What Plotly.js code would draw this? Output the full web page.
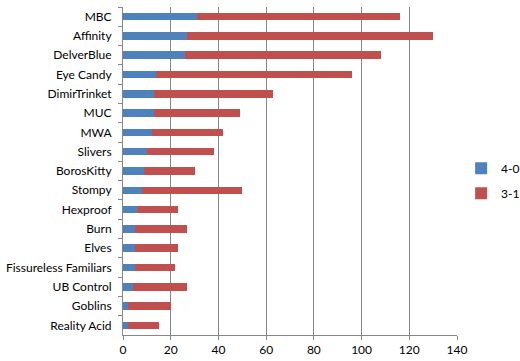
<!DOCTYPE html>
<html><head><meta charset="utf-8">
<script src="https://cdn.plot.ly/plotly-3.0.1.min.js"></script>
<style>html,body{margin:0;padding:0;background:#fff}</style>
</head><body><div id="chart" style="width:520px;height:361px"></div>
<script>
var categories = ["MBC","Affinity","DelverBlue","Eye Candy","DimirTrinket","MUC","MWA","Slivers","BorosKitty","Stompy","Hexproof","Burn","Elves","Fissureless Familiars","UB Control","Goblins","Reality Acid"];
var wins40 = [31,27,26,14,13,13,12,10,9,8,6,5,5,5,4,2,2];
var wins31 = [85,103,82,82,50,36,30,28,21,42,17,22,18,17,23,18,13];
var xTicks = [0,20,40,60,80,100,120,140];

var font = {family:"Lato, 'Open Sans', sans-serif", size:12, color:"#000"};
var traces = [
  {type:"bar", orientation:"h", name:"4-0", y:categories, x:wins40, marker:{color:"#4F81BD"}, legendgroup:"a"},
  {type:"bar", orientation:"h", name:"3-1", y:categories, x:wins31, marker:{color:"#C0504D"}, legendgroup:"b"}
];
var layout = {
  width:520, height:361,
  margin:{l:123, r:2, t:7, b:26, autoexpand:false},
  barmode:"stack", bargap:0.61,
  paper_bgcolor:"#fff", plot_bgcolor:"#fff",
  font:font,
  xaxis:{domain:[0, 334/395], range:[0,140], tickvals:xTicks, showgrid:true, gridcolor:"#868686", gridwidth:1,
         showline:true, linecolor:"#868686", ticks:"outside", ticklen:4, tickcolor:"#868686",
         zeroline:false, fixedrange:true},
  yaxis:{autorange:"reversed", type:"category", showline:true, linecolor:"#868686",
         ticks:"outside", ticklen:4, tickcolor:"#868686", tickson:"boundaries",
         ticklabelstandoff:8, showgrid:false},
  legend:{x:0.856, y:0.47, xanchor:"left", yanchor:"middle", traceorder:"grouped", tracegroupgap:6,
          font:font, itemwidth:30, bgcolor:"rgba(0,0,0,0)"},
  showlegend:true
};
Plotly.newPlot("chart", traces, layout, {displayModeBar:false, staticPlot:true});
</script></body></html>
